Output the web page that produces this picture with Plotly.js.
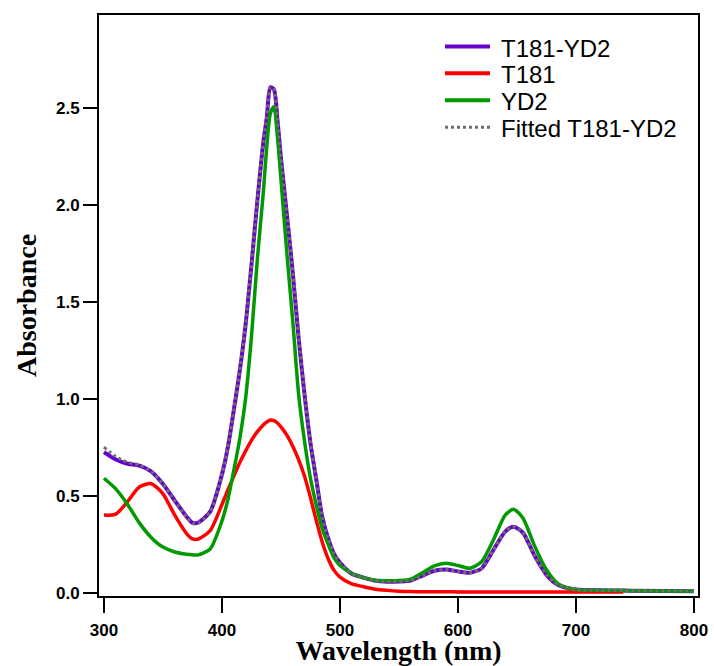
<!DOCTYPE html>
<html>
<head>
<meta charset="utf-8">
<script src="https://cdn.plot.ly/plotly-3.0.1.min.js"></script>
<style>html,body{margin:0;padding:0;background:#fff;}#chart{width:714px;height:666px;}</style>
</head>
<body>
<div id="chart"></div>
<script>
// Wavelength grid (nm)
const wavelength = [300,310,320,330,340,350,360,370,375,380,390,400,405,410,415,420,425,430,435,438,441,444,447,450,455,460,465,470,475,480,485,490,495,500,510,520,530,540,550,560,570,580,590,600,610,620,630,640,647,655,665,675,685,700,720,740,750,800];

// T181-YD2 absorbance
const absT181YD2 = [0.725,0.687,0.665,0.655,0.625,0.560,0.475,0.392,0.360,0.362,0.418,0.610,0.750,0.940,1.140,1.380,1.690,2.020,2.320,2.450,2.605,2.595,2.440,2.240,1.950,1.650,1.310,1.020,0.770,0.580,0.390,0.280,0.200,0.155,0.098,0.078,0.062,0.057,0.058,0.063,0.088,0.113,0.120,0.110,0.103,0.125,0.220,0.315,0.340,0.310,0.190,0.092,0.040,0.016,0.012,0.011,0.010,0.008];

// T181 absorbance
const absT181 = [0.400,0.405,0.470,0.545,0.562,0.510,0.400,0.305,0.278,0.277,0.320,0.455,0.530,0.600,0.670,0.730,0.785,0.830,0.865,0.880,0.890,0.887,0.875,0.855,0.812,0.755,0.685,0.600,0.490,0.370,0.260,0.175,0.115,0.080,0.045,0.031,0.018,0.012,0.008,0.006,0.005,0.005,0.005,0.004,0.004,0.004,0.004,0.004,0.004,0.004,0.004,0.004,0.004,0.004,0.004,0.004,null,null];

// YD2 absorbance
const absYD2 = [0.590,0.535,0.455,0.360,0.285,0.235,0.210,0.198,0.195,0.195,0.225,0.370,0.480,0.630,0.790,1.000,1.320,1.720,2.060,2.300,2.470,2.505,2.350,2.130,1.750,1.400,1.020,0.780,0.590,0.450,0.330,0.250,0.180,0.140,0.100,0.077,0.064,0.062,0.063,0.070,0.103,0.138,0.152,0.140,0.126,0.160,0.272,0.400,0.430,0.385,0.240,0.118,0.045,0.016,0.012,0.011,0.010,0.008];

// Fitted T181-YD2 absorbance
const absFitted = [0.750,0.702,0.672,0.658,0.626,0.560,0.474,0.390,0.357,0.360,0.418,0.612,0.752,0.942,1.142,1.382,1.692,2.022,2.322,2.452,2.607,2.597,2.442,2.242,1.952,1.652,1.312,1.022,0.772,0.582,0.392,0.282,0.202,0.156,0.099,0.078,0.062,0.057,0.058,0.063,0.088,0.113,0.120,0.110,0.103,0.125,0.220,0.315,0.340,0.310,0.190,0.092,0.040,0.016,0.012,0.011,0.010,0.008];

const seriesNames = ['T181-YD2','T181','YD2','Fitted T181-YD2'];
const seriesColors = ['#6600cc','#ff0000','#009900','#6e6e6e'];
const seriesWidths = [4, 3.5, 3.5, 3];
const seriesDash = ['solid','solid','solid','dot'];
const seriesValues = [absT181YD2, absT181, absYD2, absFitted];

const traces = seriesValues.map((vals, i) => ({
  x: wavelength, y: vals, name: seriesNames[i], mode: 'lines', showlegend: false,
  line: {color: seriesColors[i], width: seriesWidths[i], dash: seriesDash[i], shape: 'spline', smoothing: 0.7}
}));

// Legend drawn in plot-area paper coordinates (plot area: x 99..698 px, y 15..596 px)
const L = 99, W = 599, B = 596, H = 581;
const px = v => (v - L) / W;
const py = v => (B - v) / H;
const legendRows = [46.5, 73.2, 100.2, 127.2];
const shapes = [];
const annotations = [];
seriesNames.forEach((n, i) => {
  shapes.push({type:'line', xref:'paper', yref:'paper', x0:px(445), x1:px(490), y0:py(legendRows[i]), y1:py(legendRows[i]),
               line:{color:seriesColors[i], width: i===3 ? 3 : 4, dash: i===3 ? 'dot' : 'solid'}});
  annotations.push({xref:'paper', yref:'paper', x:px(499), y:py(legendRows[i] + 1.5), xanchor:'left', yanchor:'middle',
                    text:n, showarrow:false, font:{family:'Liberation Sans, Arial, sans-serif', size:24, color:'#000'}});
});

const tickFont = {family:'Liberation Sans, Arial, sans-serif', size:17, color:'#000', weight:'bold'};
const titleFont = {family:'Liberation Serif, Times New Roman, serif', size:28, color:'#000', weight:'bold'};

const layout = {
  width:714, height:666,
  margin:{l:99, r:16, t:15, b:70},
  paper_bgcolor:'#fff', plot_bgcolor:'#fff',
  showlegend:false,
  shapes: shapes,
  annotations: annotations,
  xaxis:{range:[295.8, 803.4], tickvals:[300,400,500,600,700,800],
         ticks:'outside', ticklen:15, tickwidth:2, tickcolor:'#000', ticklabelstandoff:3,
         showline:true, mirror:true, linecolor:'#000', linewidth:2,
         showgrid:false, zeroline:false, tickfont:tickFont,
         title:{text:'Wavelength (nm)', font:titleFont, standoff:3}},
  yaxis:{range:[-0.017, 2.978], tickvals:[0,0.5,1,1.5,2,2.5], tickformat:'.1f',
         ticks:'outside', ticklen:14, tickwidth:2, tickcolor:'#000',
         showline:true, mirror:true, linecolor:'#000', linewidth:2,
         showgrid:false, zeroline:false, tickfont:tickFont,
         title:{text:'Absorbance', font:titleFont, standoff:11}}
};

Plotly.newPlot('chart', traces, layout, {displayModeBar:false, staticPlot:true});
</script>
</body>
</html>
